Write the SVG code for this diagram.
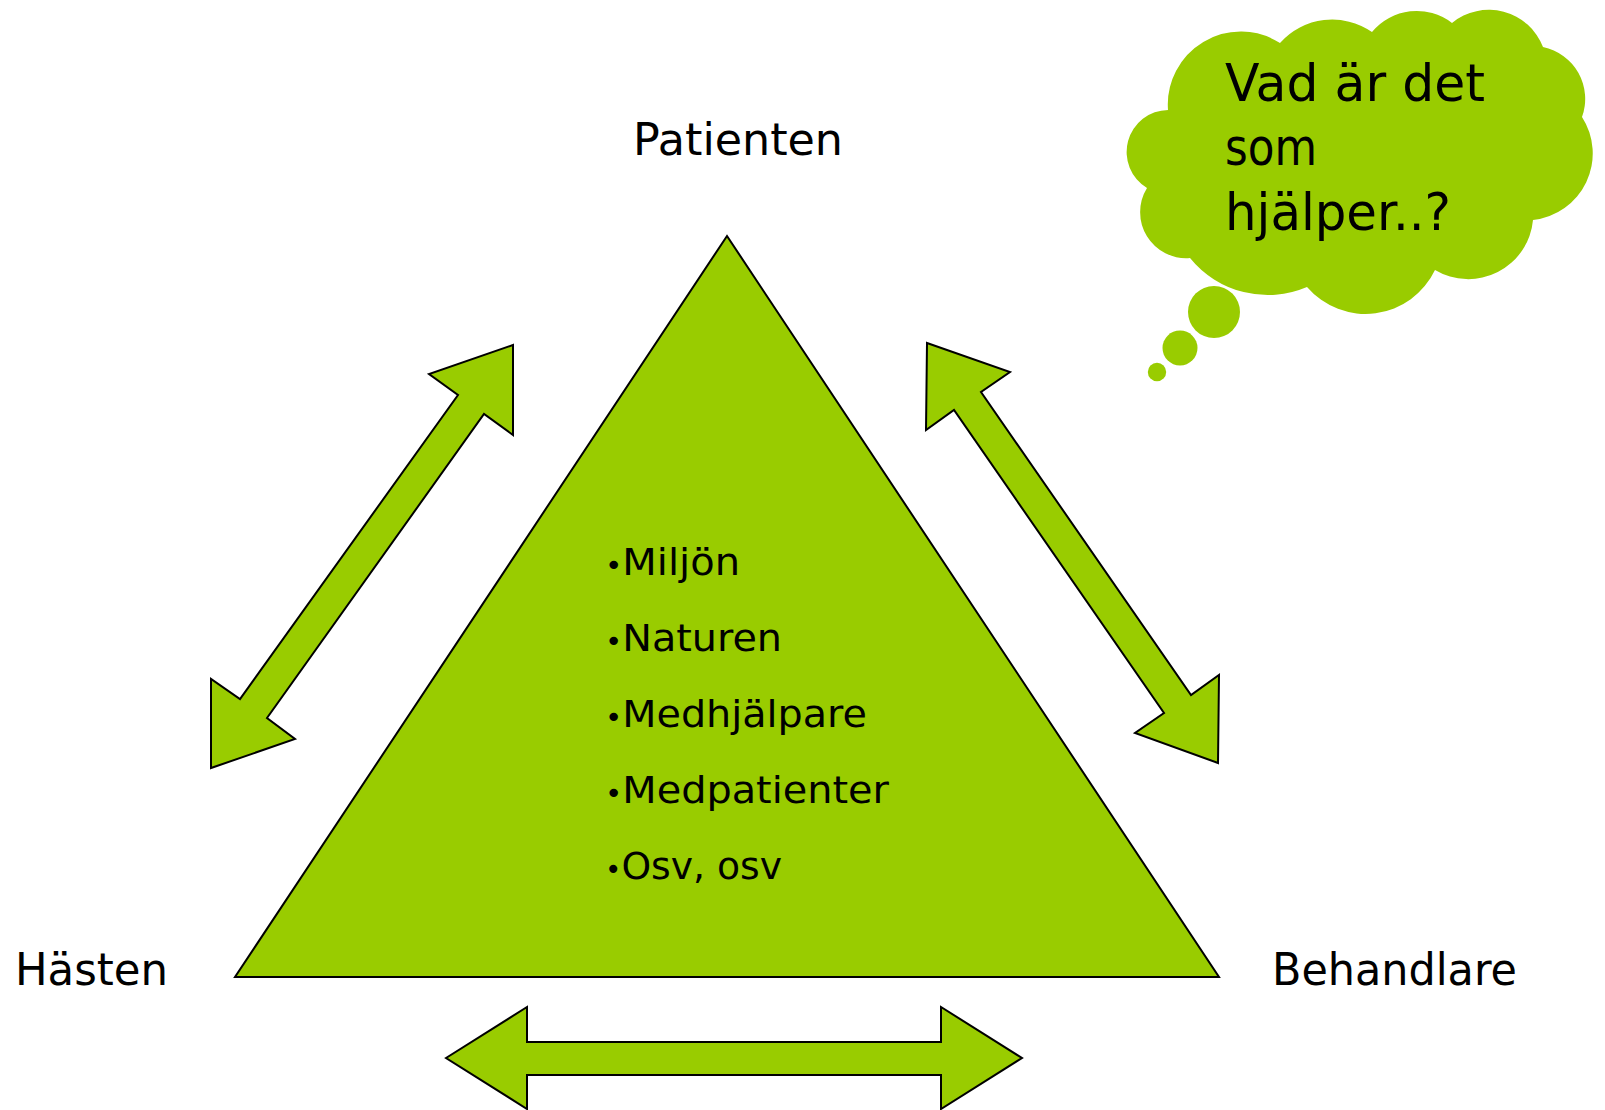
<svg xmlns="http://www.w3.org/2000/svg" width="1605" height="1110" viewBox="0 0 1605 1110">
<style>
.shape{fill:#99CC00;stroke:#000;stroke-width:2;stroke-linejoin:miter}
.cloud{fill:#99CC00;stroke:none}
text{font-family:"DejaVu Sans","Liberation Sans",sans-serif;fill:#000}
.lbl{font-size:44px}
.item{font-size:38px}
.bul{font-size:28px}
.think{font-size:52px}
</style>
<rect width="1605" height="1110" fill="#fff"/>
<g id="triangle">
<polygon class="shape" points="727,236 1219,977 235,977"/>
<text class="item" x="605" y="575" textLength="135" lengthAdjust="spacingAndGlyphs"><tspan class="bul">•</tspan>Miljön</text>
<text class="item" x="605" y="651" textLength="177" lengthAdjust="spacingAndGlyphs"><tspan class="bul">•</tspan>Naturen</text>
<text class="item" x="605" y="727" textLength="262" lengthAdjust="spacingAndGlyphs"><tspan class="bul">•</tspan>Medhjälpare</text>
<text class="item" x="605" y="803" textLength="284" lengthAdjust="spacingAndGlyphs"><tspan class="bul">•</tspan>Medpatienter</text>
<text class="item" x="605" y="879" textLength="177" lengthAdjust="spacingAndGlyphs"><tspan class="bul">•</tspan>Osv, osv</text>
</g>
<g id="patienten"><text class="lbl" x="633" y="155" textLength="210" lengthAdjust="spacingAndGlyphs">Patienten</text></g>
<g id="hasten"><text class="lbl" x="15" y="985" textLength="153" lengthAdjust="spacingAndGlyphs">Hästen</text></g>
<g id="behandlare"><text class="lbl" x="1272" y="985" textLength="245" lengthAdjust="spacingAndGlyphs">Behandlare</text></g>
<g id="thought">
<path class="cloud" d="M1168,110 A73,73 0 0 1 1280,43 A70,70 0 0 1 1372,32 A58,58 0 0 1 1452,23 A58,58 0 0 1 1543,47 A53,53 0 0 1 1582,117 A67,67 0 0 1 1533,220 A65,65 0 0 1 1435,270 A77,77 0 0 1 1307,287 A100,100 0 0 1 1190,258 A46,46 0 0 1 1147,188 A42,42 0 0 1 1168,110 Z"/>
<circle class="cloud" cx="1214" cy="312" r="26"/>
<circle class="cloud" cx="1180" cy="348" r="17.5"/>
<circle class="cloud" cx="1157" cy="372" r="9.2"/>
<text class="think" x="1225" y="101" textLength="260" lengthAdjust="spacingAndGlyphs">Vad är det</text>
<text class="think" x="1225" y="165" textLength="92" lengthAdjust="spacingAndGlyphs">som</text>
<text class="think" x="1225" y="230" textLength="226" lengthAdjust="spacingAndGlyphs">hjälper..?</text>
</g>
<g id="connectors">
<polygon class="shape" points="513,345 429,374 458,395 240,699 211,679 211,768 295,739 267,718 484,414 513,435"/>
<polygon class="shape" points="927,343 1010,372 981,392 1191,695 1219,675 1218,763 1135,733 1164,713 954,410 926,430"/>
<polygon class="shape" points="446,1058 527,1007 527,1042 941,1042 941,1007 1022,1058 941,1109 941,1075 527,1075 527,1109"/>
</g>
</svg>
